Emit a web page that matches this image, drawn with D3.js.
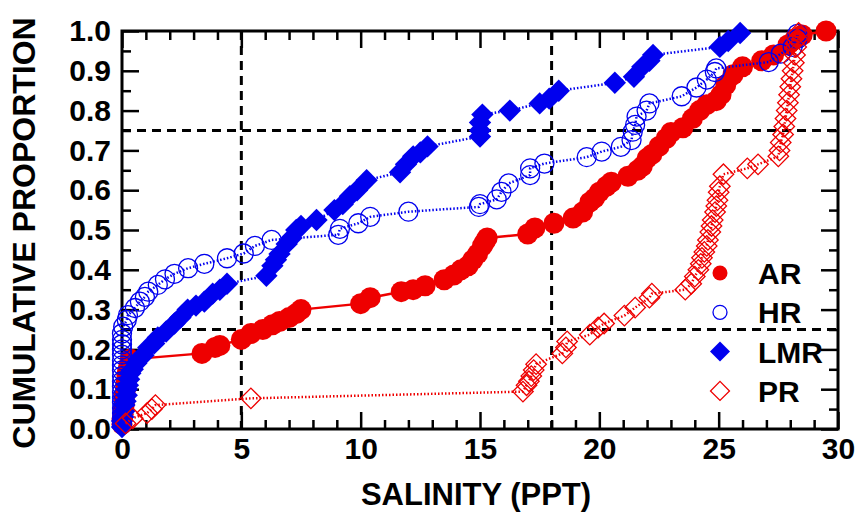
<!DOCTYPE html>
<html>
<head>
<meta charset="utf-8">
<script src="https://cdn.jsdelivr.net/npm/d3@7"></script>
<style>
  body { margin: 0; background: #fff; }
  svg { display: block; }
  text { font-family: "Liberation Sans", Arial, sans-serif; font-weight: bold; }
</style>
</head>
<body>
<svg id="chart" width="862" height="523"></svg>
<script>
// Cumulative proportion curves, [salinity (ppt), proportion]
const arData = [
  [0.0, 0.012], [0.0, 0.025], [0.05, 0.037], [0.05, 0.05], [0.1, 0.062], [0.1, 0.075],
  [0.1, 0.087], [0.15, 0.1], [0.15, 0.112], [0.2, 0.125], [0.2, 0.137], [0.25, 0.15],
  [0.3, 0.162], [0.35, 0.175], [3.35, 0.19], [3.9, 0.205], [4.1, 0.21], [5.0, 0.225],
  [5.4, 0.24], [5.9, 0.25], [6.3, 0.262], [6.6, 0.27], [7.0, 0.28], [7.3, 0.29],
  [7.5, 0.30], [10.0, 0.315], [10.4, 0.33], [11.7, 0.345], [12.2, 0.35], [12.7, 0.36],
  [13.5, 0.375], [13.9, 0.387], [14.2, 0.4], [14.5, 0.41], [14.7, 0.425], [14.9, 0.44],
  [15.1, 0.46], [15.2, 0.47], [15.3, 0.48], [17.0, 0.49], [17.3, 0.505], [18.1, 0.517],
  [18.9, 0.53], [19.3, 0.545], [19.6, 0.57], [19.8, 0.58], [20.0, 0.595], [20.3, 0.61],
  [20.5, 0.62], [21.2, 0.635], [21.6, 0.65], [21.8, 0.66], [22.0, 0.68], [22.2, 0.69],
  [22.5, 0.71], [22.8, 0.73], [23.0, 0.745], [23.5, 0.757], [23.9, 0.78], [24.2, 0.8],
  [24.5, 0.815], [24.9, 0.825], [25.1, 0.84], [25.3, 0.865], [25.6, 0.89], [26.0, 0.91],
  [26.8, 0.925], [27.3, 0.94], [27.9, 0.965], [28.2, 0.98], [28.5, 0.99], [29.5, 1.0]
];

const hrData = [
  [0.0, 0.013], [0.0, 0.027], [0.0, 0.04], [0.0, 0.053], [0.0, 0.067], [0.0, 0.08],
  [0.0, 0.093], [0.0, 0.107], [0.0, 0.12], [0.0, 0.133], [0.0, 0.147], [0.0, 0.16],
  [0.0, 0.173], [0.0, 0.187], [0.0, 0.2], [0.0, 0.213], [0.0, 0.224], [0.0, 0.24],
  [0.05, 0.257], [0.2, 0.274], [0.25, 0.286], [0.54, 0.304], [0.75, 0.32], [0.96, 0.332],
  [1.1, 0.345], [1.5, 0.362], [1.8, 0.376], [2.2, 0.39], [2.77, 0.404], [3.45, 0.415],
  [4.4, 0.429], [5.1, 0.441], [5.57, 0.46], [6.27, 0.475], [9.06, 0.488], [9.13, 0.503],
  [9.9, 0.517], [10.4, 0.533], [12.0, 0.546], [14.95, 0.558], [15.0, 0.565], [15.7, 0.577],
  [15.9, 0.596], [16.2, 0.617], [17.1, 0.638], [17.1, 0.655], [17.7, 0.667], [19.47, 0.683],
  [20.1, 0.697], [20.9, 0.709], [21.35, 0.726], [21.4, 0.747], [21.5, 0.764], [21.56, 0.785],
  [21.98, 0.8], [22.1, 0.818], [23.45, 0.836], [24.07, 0.858], [24.5, 0.878], [24.84, 0.897],
  [24.9, 0.906], [27.1, 0.922], [27.6, 0.943], [28.1, 0.96], [28.3, 0.98], [28.3, 0.993]
];

const lmrData = [
  [0.0, 0.005], [0.0, 0.02], [0.05, 0.03], [0.1, 0.045], [0.1, 0.06], [0.15, 0.07],
  [0.2, 0.085], [0.2, 0.1], [0.25, 0.11], [0.3, 0.125], [0.35, 0.14], [0.45, 0.15],
  [0.6, 0.165], [0.7, 0.175], [0.9, 0.185], [1.1, 0.205], [1.35, 0.215], [1.5, 0.23],
  [1.85, 0.245], [2.2, 0.265], [2.45, 0.28], [2.75, 0.3], [3.1, 0.31], [3.45, 0.32],
  [3.8, 0.34], [4.1, 0.35], [4.4, 0.365], [6.05, 0.385], [6.3, 0.41], [6.45, 0.425],
  [6.6, 0.44], [6.9, 0.465], [7.1, 0.48], [7.3, 0.5], [7.5, 0.51], [8.15, 0.525],
  [8.9, 0.55], [9.25, 0.565], [9.55, 0.585], [9.85, 0.6], [10.25, 0.625], [11.65, 0.645],
  [11.9, 0.665], [12.2, 0.685], [12.5, 0.695], [12.8, 0.71], [15.0, 0.735], [15.0, 0.75],
  [15.0, 0.77], [15.1, 0.79], [16.25, 0.8], [17.5, 0.818], [17.9, 0.83], [18.3, 0.85],
  [20.65, 0.87], [21.45, 0.885], [21.8, 0.91], [22.1, 0.925], [22.25, 0.94], [25.05, 0.96],
  [25.4, 0.975], [25.9, 0.995]
];

const prData = [
  [0.15, 0.014], [0.45, 0.027], [1.05, 0.04], [1.25, 0.05], [1.4, 0.06], [5.4, 0.077],
  [16.8, 0.094], [16.95, 0.11], [17.05, 0.12], [17.15, 0.133], [17.25, 0.148], [17.35, 0.163],
  [18.45, 0.19], [18.6, 0.205], [18.65, 0.22], [19.6, 0.237], [19.95, 0.255], [20.2, 0.265],
  [21.05, 0.285], [21.5, 0.305], [22.1, 0.33], [22.2, 0.34], [23.6, 0.35], [23.85, 0.365],
  [24.0, 0.383], [24.15, 0.4], [24.25, 0.415], [24.3, 0.43], [24.4, 0.445], [24.5, 0.46],
  [24.55, 0.475], [24.65, 0.495], [24.7, 0.51], [24.75, 0.525], [24.85, 0.545], [24.9, 0.56],
  [24.95, 0.575], [25.0, 0.595], [25.05, 0.61], [25.2, 0.64], [26.2, 0.655], [26.65, 0.665],
  [27.5, 0.685], [27.55, 0.70], [27.6, 0.72], [27.7, 0.74], [27.75, 0.76], [27.8, 0.78],
  [27.85, 0.8], [27.9, 0.82], [27.95, 0.84], [28.0, 0.86], [28.05, 0.88], [28.1, 0.9],
  [28.15, 0.92], [28.2, 0.94], [28.25, 0.96], [28.3, 0.98], [28.35, 0.995]
];

const xTicks = [0, 5, 10, 15, 20, 25, 30];
const yTicks = [0, 0.1, 0.2, 0.3, 0.4, 0.5, 0.6, 0.7, 0.8, 0.9, 1.0];
const refX = [5, 18];        // dashed vertical guides
const refY = [0.25, 0.75];   // dashed horizontal guides
const legendLabels = ['AR', 'HR', 'LMR', 'PR'];

const red = '#ee0000';
const blue = '#0000ee';

const svg = d3.select('#chart');

const x = d3.scaleLinear().domain([0, 30]).range([122, 838]);
const y = d3.scaleLinear().domain([0, 1]).range([429, 31]);

// minor tick positions
const xMinor = d3.range(0, 31, 1).filter(v => v % 5 !== 0);
const yMinor = d3.range(0.05, 1, 0.1);

function styleAxis(g) {
  g.select('.domain').remove();
  g.selectAll('line').attr('stroke', '#000').attr('stroke-width', 2.5);
  g.selectAll('text').attr('fill', '#000').style('font-size', '30px');
}

// frame
svg.append('rect')
  .attr('x', x(0)).attr('y', y(1))
  .attr('width', x(30) - x(0)).attr('height', y(0) - y(1))
  .attr('fill', 'none').attr('stroke', '#000').attr('stroke-width', 3);

// bottom + top ticks
svg.append('g').attr('transform', `translate(0,${y(0)})`)
  .call(d3.axisBottom(x).tickValues(xTicks).tickSize(-17).tickPadding(9).tickFormat(d3.format('d')))
  .call(styleAxis);
svg.append('g').attr('transform', `translate(0,${y(0)})`)
  .call(d3.axisBottom(x).tickValues(xMinor).tickSize(-9).tickFormat(''))
  .call(styleAxis);
svg.append('g').attr('transform', `translate(0,${y(1)})`)
  .call(d3.axisTop(x).tickValues(xTicks).tickSize(-17).tickFormat(''))
  .call(styleAxis);
svg.append('g').attr('transform', `translate(0,${y(1)})`)
  .call(d3.axisTop(x).tickValues(xMinor).tickSize(-9).tickFormat(''))
  .call(styleAxis);

// left + right ticks
svg.append('g').attr('transform', `translate(${x(0)},0)`)
  .call(d3.axisLeft(y).tickValues(yTicks).tickSize(-17).tickPadding(11).tickFormat(d3.format('.1f')))
  .call(styleAxis);
svg.append('g').attr('transform', `translate(${x(0)},0)`)
  .call(d3.axisLeft(y).tickValues(yMinor).tickSize(-9).tickFormat(''))
  .call(styleAxis);
svg.append('g').attr('transform', `translate(${x(30)},0)`)
  .call(d3.axisRight(y).tickValues(yTicks).tickSize(-17).tickFormat(''))
  .call(styleAxis);
svg.append('g').attr('transform', `translate(${x(30)},0)`)
  .call(d3.axisRight(y).tickValues(yMinor).tickSize(-9).tickFormat(''))
  .call(styleAxis);

// dashed guides
svg.selectAll('.refx').data(refX).enter().append('line')
  .attr('x1', d => x(d)).attr('x2', d => x(d))
  .attr('y1', y(1)).attr('y2', y(0))
  .attr('stroke', '#000').attr('stroke-width', 3).attr('stroke-dasharray', '9,6');
svg.selectAll('.refy').data(refY).enter().append('line')
  .attr('x1', x(0)).attr('x2', x(30))
  .attr('y1', d => y(d)).attr('y2', d => y(d))
  .attr('stroke', '#000').attr('stroke-width', 3).attr('stroke-dasharray', '9,6');

const line = d3.line().x(d => x(d[0])).y(d => y(d[1]));

const series = [
  { name: 'AR', data: arData, color: red, dash: null, marker: 'circle', fill: red, r: 10.5 },
  { name: 'HR', data: hrData, color: blue, dash: '1.5,2', marker: 'circle', fill: 'none', r: 9.5 },
  { name: 'LMR', data: lmrData, color: blue, dash: '1.5,2', marker: 'diamond', fill: blue, size: 250 },
  { name: 'PR', data: prData, color: red, dash: '1.5,2', marker: 'diamond', fill: 'none', size: 210 }
];

const diamond = d3.symbol().type(d3.symbolSquare);

series.forEach(s => {
  const g = svg.append('g');
  g.append('path')
    .datum(s.data)
    .attr('d', line)
    .attr('fill', 'none')
    .attr('stroke', s.color)
    .attr('stroke-width', 2.5)
    .attr('stroke-dasharray', s.dash);

  if (s.marker === 'circle') {
    g.selectAll('circle').data(s.data).enter().append('circle')
      .attr('cx', d => x(d[0])).attr('cy', d => y(d[1]))
      .attr('r', s.r)
      .attr('fill', s.fill)
      .attr('stroke', s.color)
      .attr('stroke-width', s.fill === 'none' ? 1.3 : 0);
  } else {
    g.selectAll('.pt').data(s.data).enter().append('path')
      .attr('d', diamond.size(s.size)())
      .attr('transform', d => `translate(${x(d[0])},${y(d[1])}) rotate(45)`)
      .attr('fill', s.fill)
      .attr('stroke', s.color)
      .attr('stroke-width', s.fill === 'none' ? 1.3 : 0);
  }
});

// legend
const legendMarkers = [
  { r: 7.5, fill: red, stroke: red },
  { r: 7, fill: 'none', stroke: blue },
  { size: 200, fill: blue, stroke: blue },
  { size: 180, fill: 'none', stroke: red }
];
const legend = svg.append('g');
legendLabels.forEach((label, i) => {
  const cy = 273 + i * 39.3;
  const m = legendMarkers[i];
  if (m.r) {
    legend.append('circle').attr('cx', 720).attr('cy', cy).attr('r', m.r)
      .attr('fill', m.fill).attr('stroke', m.stroke).attr('stroke-width', m.fill === 'none' ? 1.3 : 0);
  } else {
    legend.append('path').attr('d', diamond.size(m.size)())
      .attr('transform', `translate(720,${cy}) rotate(45)`)
      .attr('fill', m.fill).attr('stroke', m.stroke).attr('stroke-width', m.fill === 'none' ? 1.3 : 0);
  }
  legend.append('text')
    .attr('x', 758).attr('y', cy + 11)
    .style('font-size', '30px')
    .text(label);
});

// axis titles
svg.append('text')
  .attr('x', (x(0) + x(30)) / 2 - 4).attr('y', 505)
  .attr('text-anchor', 'middle')
  .style('font-size', '31px')
  .text('SALINITY (PPT)');

svg.append('text')
  .attr('transform', `translate(35,${(y(0) + y(1)) / 2 + 3}) rotate(-90)`)
  .attr('text-anchor', 'middle')
  .style('font-size', '32px')
  .text('CUMULATIVE PROPORTION');
</script>
</body>
</html>
